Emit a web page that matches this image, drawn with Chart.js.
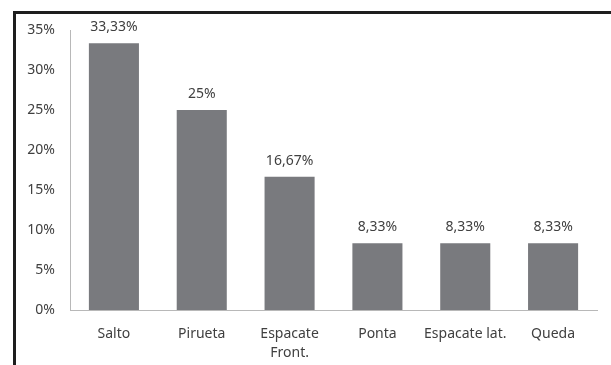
<!DOCTYPE html>
<html>
<head>
<meta charset="utf-8">
<script src="https://cdn.jsdelivr.net/npm/chart.js@4"></script>
<style>
  html, body { margin: 0; padding: 0; background: #fff; }
  #wrap { position: relative; width: 611px; height: 365px; overflow: hidden; }
  #frame {
    position: absolute; left: 13px; top: 11px; right: -5px; bottom: -5px;
    border-top: 3px solid #1e1e1e; border-left: 3px solid #1e1e1e;
    pointer-events: none;
  }
</style>
</head>
<body>
<div id="wrap">
  <canvas id="grafico" width="611" height="365"></canvas>
  <div id="frame"></div>
</div>
<script>
// datos del gráfico
const categorias = ['Salto', 'Pirueta', ['Espacate', 'Front.'], 'Ponta', 'Espacate lat.', 'Queda'];
const porcentajes = [33.33, 25, 16.67, 8.33, 8.33, 8.33];
const ticksY = [0, 5, 10, 15, 20, 25, 30, 35];

const colorTexto = '#404040';
const fuente = 'Noto Sans';

// etiquetas encima de cada barra
const etiquetasBarras = {
  id: 'etiquetasBarras',
  afterDatasetsDraw(chart) {
    const ctx = chart.ctx;
    const meta = chart.getDatasetMeta(0);
    ctx.save();
    ctx.font = '14px "' + fuente + '"';
    ctx.fillStyle = colorTexto;
    ctx.textAlign = 'center';
    ctx.textBaseline = 'middle';
    meta.data.forEach((bar, i) => {
      const txt = String(porcentajes[i]).replace('.', ',') + '%';
      ctx.fillText(txt, bar.x, bar.y - 16);
    });
    ctx.restore();
  }
};

const ctx = document.getElementById('grafico').getContext('2d');
new Chart(ctx, {
  type: 'bar',
  data: {
    labels: categorias,
    datasets: [{
      data: porcentajes,
      backgroundColor: '#797a7e',
      categoryPercentage: 1,
      barPercentage: 0.57
    }]
  },
  options: {
    responsive: false,
    animation: false,
    layout: { padding: { left: 0, right: 14, top: 30, bottom: 0 } },
    plugins: { legend: { display: false }, tooltip: { enabled: false } },
    scales: {
      x: {
        grid: { display: false, drawTicks: false },
        border: { display: true, color: '#b8b8b8', width: 1 },
        ticks: {
          color: colorTexto,
          padding: 15,
          maxRotation: 0,
          font: { family: fuente, size: 14, lineHeight: 1.35 }
        },
        afterFit: (scale) => { scale.height = 55; }
      },
      y: {
        min: 0,
        max: 35,
        grid: { display: false, drawTicks: false },
        border: { display: true, color: '#b8b8b8', width: 1 },
        afterBuildTicks: (scale) => { scale.ticks = ticksY.map(v => ({ value: v })); },
        ticks: {
          color: colorTexto,
          padding: 15,
          font: { family: fuente, size: 14 },
          callback: (v) => v + '%'
        },
        afterFit: (scale) => { scale.width = 70; }
      }
    }
  },
  plugins: [etiquetasBarras]
});
</script>
</body>
</html>
